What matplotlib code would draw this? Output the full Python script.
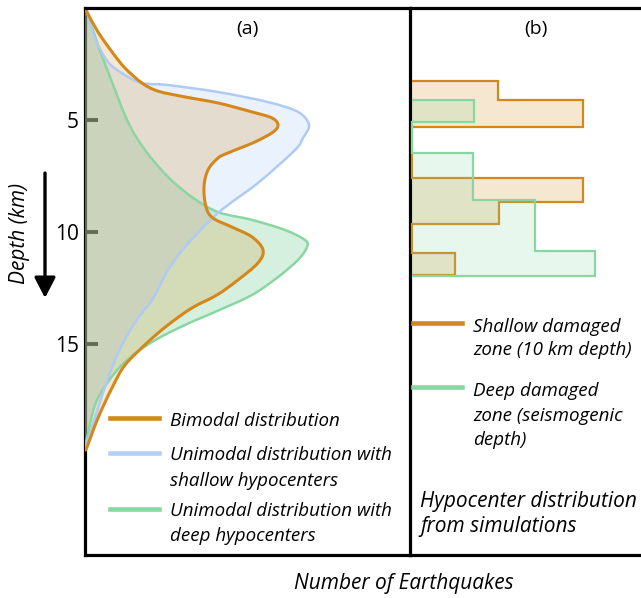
import matplotlib
matplotlib.use("Agg")
import numpy as np
import matplotlib.pyplot as plt
from matplotlib.lines import Line2D
from matplotlib.path import Path
from matplotlib.patches import PathPatch, FancyArrowPatch

plt.rcParams['font.family'] = ['Open Sans', 'DejaVu Sans']

# ---- Panel (a): depth profiles of earthquake counts (depth in km) ----
bimodal_depth = [0, 0.18, 1.07, 1.96, 2.68, 3.35, 3.71, 3.97, 4.24, 4.64, 4.91,
                 5.22, 5.54, 5.98, 6.47, 6.70, 7.23, 7.99, 8.88, 9.38, 9.78,
                 10.22, 10.80, 11.38, 12.14, 12.81, 13.39, 14.15, 14.91, 15.94,
                 16.96, 18.30, 19.60, 19.73]
bimodal_count = [0, 0.02, 0.13, 0.27, 0.40, 0.57, 0.73, 1.00, 1.33, 1.67, 1.87,
                 1.93, 1.88, 1.70, 1.43, 1.33, 1.23, 1.19, 1.21, 1.28, 1.47,
                 1.67, 1.78, 1.73, 1.53, 1.32, 1.07, 0.83, 0.63, 0.40,
                 0.27, 0.13, 0.02, 0]

shallow_uni_depth = [0, 0.18, 1.34, 2.41, 2.99, 3.35, 3.44, 3.75, 4.20, 4.64,
                     5.22, 5.80, 6.34, 7.81, 9.15, 10.67, 11.70, 13.04, 13.84,
                     15.04, 16.52, 18.30, 19.73]
shallow_uni_count = [0, 0.02, 0.10, 0.23, 0.40, 0.57, 0.83, 1.33, 1.83, 2.13,
                     2.24, 2.18, 2.10, 1.73, 1.33, 1.00, 0.83, 0.67, 0.53,
                     0.37, 0.23, 0.10, 0]

deep_uni_depth = [0, 0.18, 1.65, 3.30, 5.09, 6.34, 7.54, 8.44, 9.11, 9.46, 9.91,
                  10.36, 10.67, 11.25, 12.01, 12.81, 13.57, 14.15, 14.91, 15.80,
                  16.70, 17.72, 19.20, 19.60]
deep_uni_count = [0, 0.02, 0.13, 0.27, 0.43, 0.60, 0.83, 1.07, 1.33, 1.67, 2.00,
                  2.20, 2.22, 2.13, 1.93, 1.67, 1.30, 1.00, 0.67, 0.40,
                  0.23, 0.10, 0.02, 0]

# ---- Panel (b): simulated hypocenter histograms ----
shallow_zone_edges = [3.26, 4.11, 5.31, 7.59, 8.66, 9.64, 10.94, 11.92]
shallow_zone_counts = [0.86, 1.71, 0.0, 1.71, 0.87, 0.0, 0.43]
deep_zone_edges = [4.11, 5.09, 6.47, 8.57, 10.85, 11.96]
deep_zone_counts = [0.62, 0.0, 0.61, 1.23, 1.83]

depth_ticks = [5, 10, 15]
depth_tick_labels = ['5', '10', '15']

ORANGE = '#D4881C'
BLUE = '#A8C8F8'
GREEN = '#82D49C'

W, H = 641, 598
fig = plt.figure(figsize=(W / 100, H / 100), dpi=100)


def fx(x):
    return x / W


def fy(y):
    return 1 - y / H


def smooth_path(xs, ys, close=False):
    """Catmull-Rom curve through the points, as cubic Bezier segments."""
    p = np.column_stack([xs, ys]).astype(float)
    ext = np.vstack([p[0], p, p[-1]])
    verts = [p[0]]
    codes = [Path.MOVETO]
    for i in range(len(p) - 1):
        p0, p1, p2, p3 = ext[i], ext[i + 1], ext[i + 2], ext[i + 3]
        verts += [p1 + (p2 - p0) / 6, p2 - (p3 - p1) / 6, p2]
        codes += [Path.CURVE4] * 3
    if close:
        verts.append(p[0])
        codes.append(Path.CLOSEPOLY)
    return Path(np.array(verts), codes)


ax_a = fig.add_axes([fx(85), fy(555), (410 - 85) / W, (555 - 8) / H])
ax_b = fig.add_axes([fx(410), fy(555), (641 - 410) / W, (555 - 8) / H])
ax_b.patch.set_visible(False)

for ax in (ax_a, ax_b):
    ax.set_ylim(24.42, 0)
    for s in ax.spines.values():
        s.set_linewidth(2.3)
        s.set_color('black')
    ax.set_xticks([])

ax_a.set_xlim(0, 3.25)
ax_b.set_xlim(-0.02, 2.29)

# Filled depth profiles (green, then blue, then orange on top)
profiles = [
    (deep_uni_count, deep_uni_depth, GREEN, 0.33, '#8AD6A2', 1.8),
    (shallow_uni_count, shallow_uni_depth, BLUE, 0.23, '#AECBF6', 1.8),
    (bimodal_count, bimodal_depth, ORANGE, 0.20, ORANGE, 2.2),
]
for k, (cnt, dep, fc, a, lc, lw) in enumerate(profiles):
    ax_a.add_patch(PathPatch(smooth_path(cnt, dep, close=True), facecolor=fc,
                             alpha=a, lw=0, zorder=1.0 + 0.1 * k))
    ax_a.add_patch(PathPatch(smooth_path(cnt, dep), facecolor='none',
                             edgecolor=lc, lw=lw, zorder=2.0 + 0.1 * k,
                             joinstyle='round', capstyle='round'))

ax_a.set_axisbelow(True)
ax_a.spines['left'].set_zorder(0.5)
ax_a.set_yticks(depth_ticks)
ax_a.set_yticklabels(depth_tick_labels)
ax_a.tick_params(axis='y', direction='in', length=9.5, width=2.8,
                 color='black', labelsize=15, pad=4.5)

ax_a.text(0.5, 1 - 21 / 547, '(a)', transform=ax_a.transAxes, ha='center',
          va='center', fontsize=14)

# Histograms
ax_b.stairs(shallow_zone_counts, shallow_zone_edges, orientation='horizontal',
            baseline=0, fill=True, color=ORANGE, alpha=0.2, lw=0, zorder=1.0)
ax_b.stairs(shallow_zone_counts, shallow_zone_edges, orientation='horizontal',
            baseline=0, fill=False, color=ORANGE, lw=1.6, zorder=1.1)
ax_b.stairs(deep_zone_counts, deep_zone_edges, orientation='horizontal',
            baseline=0, fill=True, color=GREEN, alpha=0.18, lw=0, zorder=1.2)
ax_b.stairs(deep_zone_counts, deep_zone_edges, orientation='horizontal',
            baseline=0, fill=False, color='#8AD6A2', lw=1.6, zorder=1.3)
ax_b.set_yticks([])
ax_b.spines['left'].set_visible(False)
ax_b.spines['right'].set_visible(False)

fig.text(fx(536), fy(29), '(b)', ha='center', va='center', fontsize=14)

# Axis descriptions
fig.text(fx(20), fy(233), 'Depth (km)', rotation=90, style='italic',
         ha='center', va='center', fontsize=15)
fig.text(fx(404), fy(584), 'Number of Earthquakes', style='italic',
         ha='center', va='center', fontsize=15)
fig.add_artist(FancyArrowPatch(
    (fx(45), fy(173)), (fx(45), fy(298)), transform=fig.transFigure,
    arrowstyle='-|>,head_length=0.62,head_width=0.32', mutation_scale=20,
    lw=2.4, color='black', shrinkA=0, shrinkB=0))

# Legend for panel (a)
TXT = dict(style='italic', fontsize=13.5, va='baseline', ha='left')
for y, c in [(418, ORANGE), (453, '#B5CFF7'), (509, '#8AD6A2')]:
    fig.add_artist(Line2D([fx(110), fx(159)], [fy(y), fy(y)], color=c,
                          lw=3.3, transform=fig.transFigure))
for y, s in [(425.5, 'Bimodal distribution'),
             (460, 'Unimodal distribution with'),
             (486, 'shallow hypocenters'),
             (516, 'Unimodal distribution with'),
             (541, 'deep hypocenters')]:
    fig.text(fx(170), fy(y), s, **TXT)

# Legend for panel (b)
for y, c in [(322.7, ORANGE), (386.7, '#8AD6A2')]:
    fig.add_artist(Line2D([fx(413), fx(462)], [fy(y), fy(y)], color=c,
                          lw=3.3, transform=fig.transFigure))
for y, s in [(331.5, 'Shallow damaged'),
             (355, 'zone (10 km depth)'),
             (396, 'Deep damaged'),
             (420.7, 'zone (seismogenic'),
             (445, 'depth)')]:
    fig.text(fx(473), fy(y), s, **TXT)
for y, s in [(506.7, 'Hypocenter distribution'),
             (532, 'from simulations')]:
    fig.text(fx(420), fy(y), s, style='italic', fontsize=15, va='baseline',
             ha='left')

fig.savefig('out.png', dpi=100)
